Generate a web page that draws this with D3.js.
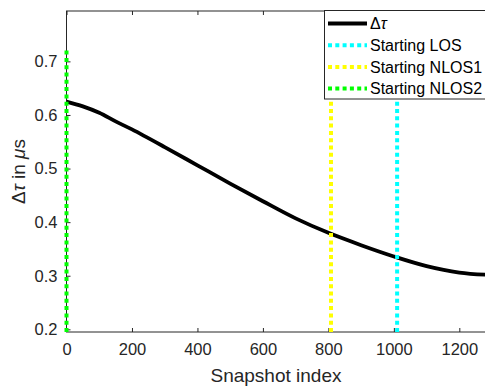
<!DOCTYPE html>
<html>
<head>
<meta charset="utf-8">
<script src="https://cdn.jsdelivr.net/npm/d3@7"></script>
<style>
  body { margin: 0; background: #fff; }
  text { font-family: "Liberation Sans", Arial, sans-serif; fill: #262626; }
</style>
</head>
<body>
<div id="chart"></div>
<script>
// snapshot index and delay spread
const snapshotIdx = [0, 50, 100, 150, 200, 300, 400, 500, 600, 700, 800, 900, 1000, 1100, 1200, 1280];
const deltaTau = [0.625, 0.616, 0.604, 0.588, 0.573, 0.540, 0.506, 0.472, 0.439, 0.407, 0.380, 0.357, 0.336, 0.318, 0.306, 0.302];

// vertical markers
const eventNames = ["Starting LOS", "Starting NLOS1", "Starting NLOS2"];
const eventIdx = [1010, 808, 0];
const eventTop = 0.722;

const xTicks = [0, 200, 400, 600, 800, 1000, 1200];
const yTicks = [0.2, 0.3, 0.4, 0.5, 0.6, 0.7];

const eventColor = { "Starting LOS": "#00ffff", "Starting NLOS1": "#ffff00", "Starting NLOS2": "#00ff00" };

const W = 485, H = 387;
const mLeft = 66.5, mRight = 485.5, mTop = 11, mBottom = 332;
const axisColor = "#262626";

const svg = d3.select("#chart").append("svg")
  .attr("width", W).attr("height", H);

const x = d3.scaleLinear().domain([0, 1280]).range([mLeft, mRight]);
const y = d3.scaleLinear().domain([0.195, 0.794]).range([mBottom, mTop]);

svg.append("defs").append("clipPath").attr("id", "plot")
  .append("rect").attr("x", mLeft - 3).attr("y", mTop).attr("width", mRight - mLeft + 3).attr("height", mBottom - mTop);

// axes box
svg.append("rect")
  .attr("x", mLeft).attr("y", mTop)
  .attr("width", mRight - mLeft).attr("height", mBottom - mTop)
  .attr("fill", "none").attr("stroke", axisColor).attr("stroke-width", 1);

// bottom axis
const gx = svg.append("g").attr("transform", `translate(0,${mBottom})`)
  .call(d3.axisBottom(x).tickValues(xTicks).tickSizeInner(-4).tickSizeOuter(0).tickPadding(11).tickFormat(d3.format("d")));
gx.select(".domain").remove();
gx.selectAll("line").attr("stroke", axisColor);
gx.selectAll("text").style("font-size", "16.5px").attr("fill", axisColor);

// top ticks
svg.append("g").attr("transform", `translate(0,${mTop})`)
  .call(d3.axisTop(x).tickValues(xTicks).tickSizeInner(-4).tickSizeOuter(0).tickFormat(""))
  .call(g => g.select(".domain").remove())
  .selectAll("line").attr("stroke", axisColor);

// left axis
const gy = svg.append("g").attr("transform", `translate(${mLeft},0)`)
  .call(d3.axisLeft(y).tickValues(yTicks).tickSizeInner(-4).tickSizeOuter(0).tickPadding(9).tickFormat(d3.format(".1f")));
gy.select(".domain").remove();
gy.selectAll("line").attr("stroke", axisColor);
gy.selectAll("text").style("font-size", "16.5px").attr("fill", axisColor);

const plot = svg.append("g").attr("clip-path", "url(#plot)");

// delta tau curve
const line = d3.line().x((d, i) => x(snapshotIdx[i])).y(d => y(d)).curve(d3.curveCatmullRom);
plot.append("path")
  .datum(deltaTau)
  .attr("d", line)
  .attr("fill", "none")
  .attr("stroke", "#000")
  .attr("stroke-width", 3.8)
  .attr("stroke-linejoin", "round");

// event markers
plot.selectAll(".event")
  .data(eventNames)
  .enter().append("line")
  .attr("class", "event")
  .attr("x1", (d, i) => x(eventIdx[i]))
  .attr("x2", (d, i) => x(eventIdx[i]))
  .attr("y1", y.range()[0])
  .attr("y2", y(eventTop))
  .attr("stroke", d => eventColor[d])
  .attr("stroke-width", 4)
  .attr("stroke-dasharray", "4,3.3");

// legend
const lg = svg.append("g");
lg.append("rect")
  .attr("x", 324.5).attr("y", 10.5).attr("width", 170).attr("height", 88.5)
  .attr("fill", "#fff").attr("stroke", axisColor).attr("stroke-width", 1);

const legendItems = ["\u0394\u03c4"].concat(eventNames);
const rowY = i => 23.5 + i * 21.7;
legendItems.forEach((name, i) => {
  const sample = lg.append("line")
    .attr("x1", 328).attr("x2", 367)
    .attr("y1", rowY(i)).attr("y2", rowY(i));
  if (i === 0) {
    sample.attr("stroke", "#000").attr("stroke-width", 3.8);
  } else {
    sample.attr("stroke", eventColor[name]).attr("stroke-width", 4).attr("stroke-dasharray", "4,3.3");
  }
  const t = lg.append("text")
    .attr("x", 370).attr("y", rowY(i))
    .attr("dy", "0.36em")
    .style("font-size", "16px")
    .style("fill", "#000");
  if (i === 0) {
    t.append("tspan").text("\u0394");
    t.append("tspan").style("font-style", "italic").text("\u03c4");
  } else {
    t.text(name);
  }
});

// axis labels
svg.append("text")
  .attr("x", (mLeft + mRight) / 2).attr("y", 382)
  .attr("text-anchor", "middle")
  .style("font-size", "19px")
  .text("Snapshot index");

const yl = svg.append("text")
  .attr("transform", `translate(25,${(mTop + mBottom) / 2}) rotate(-90)`)
  .attr("text-anchor", "middle")
  .style("font-size", "19px");
yl.append("tspan").text("\u0394");
yl.append("tspan").style("font-style", "italic").text("\u03c4");
yl.append("tspan").text(" in ");
yl.append("tspan").style("font-style", "italic").text("\u03bc");
yl.append("tspan").text("s");
</script>
</body>
</html>
